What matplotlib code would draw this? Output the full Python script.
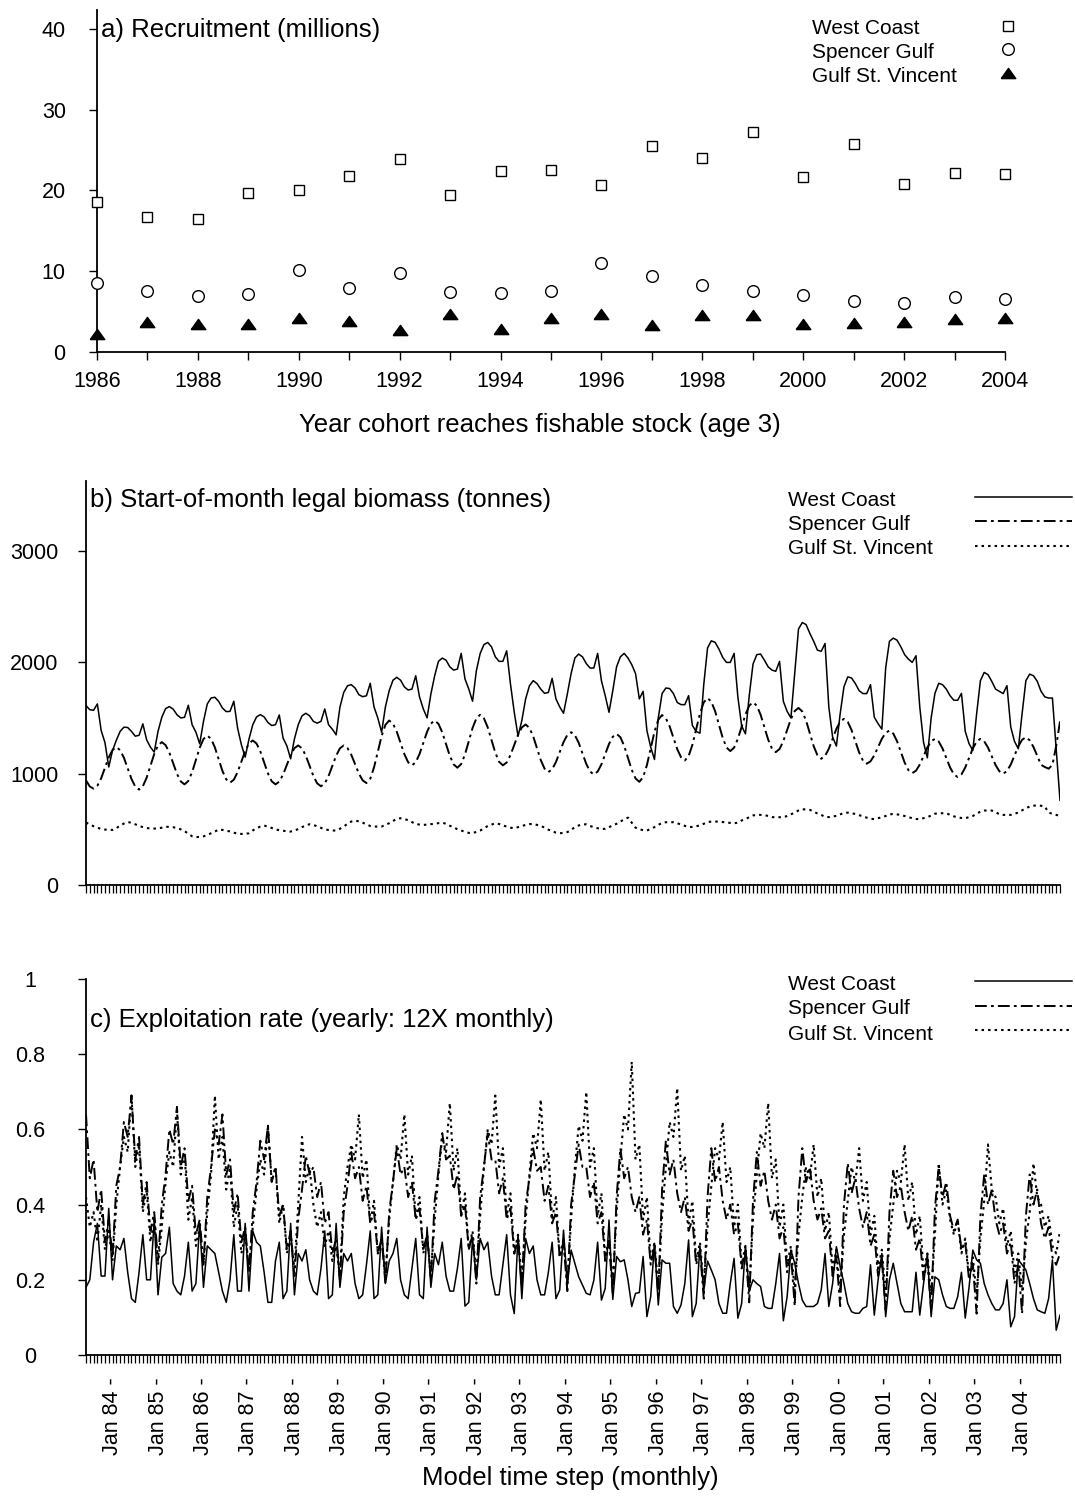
import numpy as np
import pandas as pd
import matplotlib
matplotlib.use('Agg')
import matplotlib.pyplot as plt
from matplotlib.lines import Line2D

plt.rcParams['font.family'] = ['Liberation Sans', 'DejaVu Sans']
plt.rcParams['lines.scale_dashes'] = False

# --- a) recruitment by cohort year (millions)
years = list(range(1986, 2005))
wc_rec = [18.6, 16.7, 16.5, 19.7, 20.0, 21.8, 23.9, 19.4, 22.4, 22.5,
          20.7, 25.5, 24.0, 27.2, 21.7, 25.7, 20.8, 22.2, 22.0]
sg_rec = [8.5, 7.5, 6.9, 7.2, 10.1, 7.9, 9.8, 7.4, 7.3, 7.5,
          11.0, 9.4, 8.3, 7.5, 7.1, 6.3, 6.1, 6.8, 6.6]
gsv_rec = [2.2, 3.7, 3.5, 3.5, 4.2, 3.8, 2.7, 4.7, 2.8, 4.2,
           4.7, 3.3, 4.6, 4.6, 3.5, 3.6, 3.7, 4.1, 4.2]

# --- b) start-of-month legal biomass (tonnes), Jun 1983 .. Nov 2004
wc_bio = [
    1612, 1575, 1570, 1627, 1388, 1280, 1060, 1209, 1300, 1380, 1418, 1415,
    1380, 1337, 1345, 1448, 1304, 1239, 1194, 1380, 1507, 1585, 1603, 1580,
    1530, 1501, 1507, 1615, 1440, 1373, 1269, 1470, 1627, 1680, 1687, 1650,
    1590, 1558, 1560, 1651, 1410, 1260, 1149, 1310, 1440, 1510, 1531, 1510,
    1460, 1433, 1440, 1528, 1320, 1250, 1134, 1313, 1440, 1520, 1543, 1520,
    1470, 1454, 1470, 1582, 1440, 1400, 1349, 1597, 1730, 1790, 1800, 1770,
    1710, 1692, 1700, 1812, 1600, 1500, 1373, 1600, 1746, 1840, 1866, 1840,
    1780, 1752, 1760, 1880, 1690, 1582, 1502, 1716, 1880, 2010, 2039, 2020,
    1960, 1931, 1940, 2081, 1851, 1761, 1651, 1925, 2080, 2160, 2179, 2140,
    2050, 2009, 2010, 2104, 1806, 1552, 1337, 1478, 1672, 1790, 1836, 1810,
    1760, 1722, 1730, 1857, 1672, 1600, 1543, 1716, 1900, 2040, 2075, 2050,
    1990, 1949, 1950, 2081, 1836, 1701, 1552, 1746, 1961, 2050, 2081, 2040,
    1980, 1900, 1672, 1740, 1388, 1239, 1128, 1500, 1720, 1770, 1765, 1720,
    1640, 1621, 1620, 1701, 1433, 1380, 1364, 1800, 2130, 2194, 2180, 2120,
    2045, 2000, 2000, 2081, 1690, 1430, 1358, 1700, 1985, 2070, 2075, 2020,
    1960, 1931, 1920, 2009, 1650, 1560, 1502, 1900, 2300, 2358, 2340, 2260,
    2190, 2110, 2100, 2170, 1600, 1330, 1248, 1540, 1782, 1870, 1860, 1810,
    1746, 1720, 1720, 1800, 1507, 1450, 1400, 1950, 2190, 2218, 2200, 2140,
    2070, 2030, 2000, 2060, 1600, 1280, 1143, 1500, 1722, 1812, 1800, 1760,
    1700, 1660, 1660, 1722, 1380, 1270, 1209, 1537, 1836, 1910, 1890, 1830,
    1760, 1740, 1720, 1791, 1420, 1290, 1224, 1540, 1836, 1895, 1880, 1830,
    1740, 1690, 1680, 1680, 1220, 761]
sg_bio = [
    940, 885, 866, 892, 959, 1052, 1146, 1213, 1239, 1212, 1144, 1048,
    953, 884, 857, 887, 964, 1071, 1177, 1254, 1284, 1257, 1189, 1094,
    999, 931, 904, 935, 1014, 1124, 1233, 1312, 1343, 1313, 1237, 1131,
    1025, 949, 919, 946, 1014, 1109, 1204, 1272, 1299, 1271, 1200, 1102,
    1003, 932, 904, 929, 992, 1079, 1167, 1230, 1254, 1228, 1162, 1071,
    979, 913, 887, 913, 979, 1071, 1162, 1228, 1254, 1230, 1170, 1085,
    1001, 940, 916, 955, 1057, 1197, 1338, 1439, 1478, 1450, 1377, 1277,
    1176, 1103, 1075, 1103, 1176, 1277, 1377, 1450, 1478, 1448, 1372, 1266,
    1160, 1084, 1054, 1087, 1173, 1292, 1411, 1497, 1530, 1498, 1416, 1303,
    1189, 1107, 1075, 1101, 1167, 1259, 1350, 1416, 1442, 1412, 1335, 1229,
    1122, 1045, 1015, 1040, 1105, 1194, 1284, 1348, 1373, 1346, 1278, 1183,
    1088, 1020, 993, 1019, 1084, 1176, 1267, 1332, 1358, 1328, 1250, 1143,
    1035, 957, 927, 969, 1077, 1227, 1377, 1485, 1527, 1498, 1425, 1323,
    1221, 1148, 1119, 1158, 1259, 1400, 1540, 1641, 1680, 1647, 1561, 1442,
    1322, 1236, 1203, 1234, 1313, 1423, 1532, 1611, 1642, 1611, 1530, 1418,
    1306, 1225, 1194, 1222, 1293, 1393, 1492, 1563, 1591, 1559, 1477, 1363,
    1248, 1166, 1134, 1159, 1224, 1314, 1403, 1468, 1493, 1465, 1392, 1292,
    1191, 1118, 1090, 1111, 1165, 1239, 1314, 1367, 1388, 1361, 1292, 1197,
    1101, 1032, 1005, 1027, 1082, 1159, 1236, 1291, 1313, 1289, 1227, 1142,
    1056, 994, 970, 994, 1056, 1142, 1227, 1289, 1313, 1291, 1235, 1157,
    1078, 1022, 1000, 1023, 1082, 1164, 1246, 1305, 1328, 1300, 1240, 1160,
    1080, 1060, 1045, 1080, 1250, 1470]
gsv_bio = [
    561, 545, 528, 515, 503, 498, 496, 495, 510, 535, 552, 565,
    560, 545, 531, 520, 512, 508, 507, 508, 515, 524, 522, 519,
    512, 500, 485, 460, 438, 430, 432, 437, 450, 465, 480, 498,
    495, 488, 481, 470, 462, 459, 459, 465, 490, 510, 525, 534,
    525, 512, 500, 492, 488, 482, 480, 490, 502, 520, 535, 546,
    540, 527, 515, 500, 494, 490, 489, 505, 525, 550, 570, 579,
    572, 560, 545, 530, 525, 525, 525, 540, 555, 575, 595, 600,
    592, 583, 565, 548, 543, 540, 542, 546, 551, 556, 560, 550,
    532, 520, 500, 489, 478, 468, 466, 478, 489, 510, 530, 543,
    555, 548, 535, 525, 515, 510, 520, 531, 540, 547, 549, 540,
    531, 515, 497, 485, 470, 465, 468, 475, 495, 520, 535, 545,
    545, 530, 520, 510, 503, 505, 520, 535, 550, 570, 590, 605,
    560, 515, 500, 493, 489, 505, 520, 540, 558, 564, 564, 564,
    555, 543, 530, 520, 522, 528, 535, 550, 565, 570, 570, 570,
    565, 561, 558, 555, 560, 580, 591, 610, 625, 630, 630, 628,
    620, 610, 609, 609, 609, 620, 635, 650, 670, 681, 678, 675,
    660, 642, 630, 612, 610, 615, 621, 635, 648, 650, 645, 638,
    628, 617, 605, 595, 592, 600, 609, 620, 635, 638, 634, 630,
    620, 610, 600, 593, 592, 600, 609, 625, 640, 645, 645, 645,
    630, 617, 608, 602, 600, 610, 620, 640, 660, 669, 669, 669,
    655, 635, 630, 630, 630, 640, 651, 670, 690, 705, 712, 717,
    712, 705, 650, 640, 630, 620]

# --- c) exploitation rate (yearly: 12 x monthly)
wc_expl = [
    0.18, 0.20, 0.30, 0.35, 0.21, 0.21, 0.39, 0.20, 0.29, 0.28, 0.31, 0.22,
    0.15, 0.14, 0.22, 0.32, 0.20, 0.20, 0.36, 0.16, 0.26, 0.27, 0.34, 0.19,
    0.17, 0.16, 0.21, 0.30, 0.17, 0.19, 0.35, 0.18, 0.29, 0.28, 0.27, 0.22,
    0.17, 0.14, 0.20, 0.32, 0.17, 0.17, 0.35, 0.17, 0.33, 0.30, 0.29, 0.22,
    0.14, 0.14, 0.25, 0.30, 0.15, 0.17, 0.35, 0.16, 0.27, 0.25, 0.28, 0.20,
    0.17, 0.16, 0.23, 0.33, 0.15, 0.16, 0.35, 0.18, 0.27, 0.25, 0.27, 0.19,
    0.15, 0.16, 0.24, 0.33, 0.15, 0.16, 0.34, 0.19, 0.25, 0.27, 0.31, 0.20,
    0.16, 0.15, 0.23, 0.31, 0.16, 0.15, 0.34, 0.18, 0.27, 0.24, 0.30, 0.21,
    0.17, 0.17, 0.23, 0.31, 0.13, 0.14, 0.31, 0.20, 0.31, 0.28, 0.30, 0.21,
    0.16, 0.16, 0.24, 0.32, 0.16, 0.11, 0.32, 0.15, 0.31, 0.27, 0.29, 0.20,
    0.16, 0.16, 0.22, 0.30, 0.15, 0.173, 0.332, 0.186, 0.279, 0.244, 0.208, 0.186,
    0.164, 0.160, 0.199, 0.30, 0.146, 0.177, 0.359, 0.148, 0.262, 0.248, 0.253, 0.20,
    0.129, 0.164, 0.166, 0.262, 0.102, 0.155, 0.297, 0.133, 0.253, 0.244, 0.244, 0.129,
    0.111, 0.133, 0.19, 0.306, 0.102, 0.137, 0.29, 0.17, 0.25, 0.226, 0.20, 0.137,
    0.111, 0.111, 0.19, 0.257, 0.098, 0.137, 0.29, 0.17, 0.20, 0.19, 0.182, 0.129,
    0.124, 0.124, 0.19, 0.27, 0.091, 0.155, 0.279, 0.244, 0.19, 0.146, 0.129, 0.129,
    0.129, 0.137, 0.173, 0.27, 0.129, 0.19, 0.288, 0.235, 0.19, 0.137, 0.115, 0.111,
    0.111, 0.124, 0.129, 0.24, 0.106, 0.20, 0.27, 0.102, 0.20, 0.244, 0.19, 0.137,
    0.115, 0.115, 0.115, 0.22, 0.106, 0.19, 0.27, 0.102, 0.208, 0.20, 0.16, 0.129,
    0.124, 0.124, 0.155, 0.22, 0.098, 0.18, 0.279, 0.253, 0.244, 0.19, 0.16, 0.137,
    0.12, 0.12, 0.137, 0.20, 0.075, 0.102, 0.253, 0.24, 0.226, 0.19, 0.15, 0.12,
    0.115, 0.111, 0.15, 0.253, 0.066, 0.106]
sg_expl = [
    0.64, 0.47, 0.52, 0.38, 0.44, 0.30, 0.36, 0.26, 0.45, 0.50, 0.62, 0.58,
    0.69, 0.52, 0.58, 0.40, 0.46, 0.33, 0.38, 0.25, 0.40, 0.48, 0.60, 0.56,
    0.66, 0.50, 0.55, 0.41, 0.45, 0.32, 0.36, 0.24, 0.42, 0.50, 0.60, 0.56,
    0.64, 0.48, 0.52, 0.38, 0.43, 0.30, 0.34, 0.22, 0.38, 0.46, 0.57, 0.52,
    0.61, 0.46, 0.50, 0.37, 0.40, 0.28, 0.33, 0.21, 0.36, 0.44, 0.53, 0.48,
    0.50, 0.42, 0.46, 0.35, 0.38, 0.27, 0.31, 0.20, 0.38, 0.45, 0.54, 0.47,
    0.50, 0.41, 0.45, 0.35, 0.38, 0.27, 0.31, 0.19, 0.38, 0.46, 0.55, 0.48,
    0.50, 0.42, 0.46, 0.36, 0.39, 0.28, 0.32, 0.20, 0.41, 0.49, 0.59, 0.52,
    0.53, 0.44, 0.48, 0.37, 0.40, 0.28, 0.32, 0.19, 0.42, 0.50, 0.59, 0.52,
    0.52, 0.43, 0.47, 0.36, 0.39, 0.27, 0.31, 0.18, 0.40, 0.47, 0.55, 0.49,
    0.50, 0.41, 0.45, 0.35, 0.38, 0.26, 0.30, 0.17, 0.40, 0.48, 0.56, 0.50,
    0.50, 0.42, 0.46, 0.35, 0.38, 0.25, 0.30, 0.16, 0.42, 0.55, 0.47, 0.50,
    0.42, 0.38, 0.42, 0.32, 0.36, 0.24, 0.29, 0.16, 0.44, 0.57, 0.48, 0.52,
    0.43, 0.38, 0.42, 0.33, 0.36, 0.24, 0.28, 0.15, 0.42, 0.55, 0.46, 0.50,
    0.41, 0.36, 0.40, 0.32, 0.35, 0.23, 0.28, 0.14, 0.41, 0.54, 0.45, 0.49,
    0.41, 0.36, 0.40, 0.31, 0.34, 0.22, 0.27, 0.13, 0.42, 0.55, 0.46, 0.50,
    0.41, 0.36, 0.39, 0.31, 0.33, 0.21, 0.26, 0.13, 0.40, 0.51, 0.43, 0.47,
    0.39, 0.34, 0.38, 0.29, 0.32, 0.21, 0.25, 0.12, 0.38, 0.49, 0.42, 0.45,
    0.38, 0.33, 0.37, 0.28, 0.31, 0.20, 0.25, 0.12, 0.39, 0.50, 0.42, 0.46,
    0.37, 0.33, 0.36, 0.28, 0.30, 0.20, 0.24, 0.11, 0.37, 0.48, 0.40, 0.44,
    0.36, 0.32, 0.35, 0.27, 0.30, 0.19, 0.24, 0.11, 0.37, 0.48, 0.40, 0.44,
    0.35, 0.31, 0.34, 0.26, 0.24, 0.27]
gsv_expl = [
    0.42, 0.34, 0.38, 0.30, 0.40, 0.28, 0.33, 0.25, 0.40, 0.50, 0.58, 0.54,
    0.69, 0.50, 0.56, 0.38, 0.44, 0.30, 0.36, 0.24, 0.34, 0.46, 0.54, 0.50,
    0.65, 0.48, 0.54, 0.36, 0.42, 0.29, 0.34, 0.24, 0.38, 0.48, 0.69, 0.52,
    0.58, 0.44, 0.50, 0.34, 0.40, 0.27, 0.32, 0.23, 0.34, 0.44, 0.52, 0.48,
    0.61, 0.46, 0.50, 0.35, 0.40, 0.27, 0.31, 0.23, 0.40, 0.58, 0.46, 0.50,
    0.40, 0.34, 0.38, 0.29, 0.33, 0.25, 0.29, 0.21, 0.42, 0.50, 0.56, 0.52,
    0.64, 0.47, 0.52, 0.35, 0.41, 0.27, 0.31, 0.21, 0.36, 0.46, 0.56, 0.52,
    0.64, 0.48, 0.53, 0.36, 0.42, 0.27, 0.32, 0.21, 0.36, 0.48, 0.58, 0.54,
    0.67, 0.49, 0.55, 0.37, 0.43, 0.28, 0.33, 0.21, 0.37, 0.50, 0.60, 0.56,
    0.69, 0.50, 0.55, 0.37, 0.43, 0.27, 0.32, 0.20, 0.36, 0.48, 0.59, 0.55,
    0.68, 0.49, 0.54, 0.36, 0.42, 0.26, 0.31, 0.19, 0.36, 0.50, 0.61, 0.57,
    0.70, 0.50, 0.55, 0.37, 0.43, 0.26, 0.31, 0.19, 0.38, 0.52, 0.64, 0.60,
    0.78, 0.52, 0.56, 0.36, 0.42, 0.25, 0.30, 0.18, 0.37, 0.50, 0.62, 0.58,
    0.71, 0.49, 0.53, 0.35, 0.41, 0.25, 0.30, 0.18, 0.34, 0.45, 0.55, 0.52,
    0.62, 0.46, 0.50, 0.34, 0.40, 0.24, 0.29, 0.17, 0.36, 0.48, 0.59, 0.55,
    0.67, 0.47, 0.52, 0.34, 0.40, 0.24, 0.29, 0.17, 0.32, 0.42, 0.50, 0.47,
    0.56, 0.42, 0.47, 0.33, 0.38, 0.23, 0.28, 0.17, 0.32, 0.41, 0.50, 0.46,
    0.55, 0.41, 0.46, 0.32, 0.37, 0.23, 0.28, 0.16, 0.31, 0.40, 0.49, 0.46,
    0.56, 0.41, 0.46, 0.32, 0.37, 0.22, 0.27, 0.16, 0.32, 0.51, 0.40, 0.44,
    0.36, 0.32, 0.36, 0.27, 0.31, 0.21, 0.26, 0.16, 0.31, 0.41, 0.56, 0.44,
    0.42, 0.35, 0.39, 0.29, 0.33, 0.22, 0.27, 0.17, 0.30, 0.38, 0.51, 0.42,
    0.40, 0.34, 0.37, 0.29, 0.27, 0.33]

stocks = ['West Coast', 'Spencer Gulf', 'Gulf St. Vincent']

W, H = 1075, 1497
def fx(px):
    return px / W
def fy(py):
    return 1 - py / H

TICK_FS = 15.5
TITLE_FS = 18.5
LEG_FS = 15
DASHDOT = (0, (8.5, 3, 2, 3))
DOTTED = (0, (1.8, 2.9))

def style_axes(ax):
    for side in ('top', 'right'):
        ax.spines[side].set_visible(False)
    for side in ('left', 'bottom'):
        ax.spines[side].set_linewidth(1.3)
    ax.tick_params(direction='out', length=6, width=1.0, labelsize=TICK_FS)

fig = plt.figure(figsize=(W / 100, H / 100), dpi=100)

# ---------------- panel a
ax1 = fig.add_axes([fx(97), fy(352), fx(1005) - fx(97), fy(10) - fy(352)])
style_axes(ax1)
tri = [(-1, -0.7), (1, -0.7), (0, 0.7), (-1, -0.7)]
ax1.plot(years, wc_rec, 's', ms=7.2, mfc='white', mec='black', mew=1.0, clip_on=False, zorder=3)
ax1.plot(years, sg_rec, 'o', ms=8.4, mfc='white', mec='black', mew=1.0, clip_on=False, zorder=3)
ax1.plot(years, gsv_rec, marker=tri, ls='none', ms=10.5, color='black', clip_on=False, zorder=3)
ax1.set_xlim(1986, 2004)
ax1.set_ylim(0, 42.35)
ax1.set_xticks(years, [str(y) if y % 2 == 0 else '' for y in years])
ax1.set_yticks([0, 10, 20, 30, 40])
ax1.tick_params(axis='y', pad=16.5)
ax1.tick_params(axis='x', pad=8)
fig.text(fx(101), fy(30), 'a) Recruitment (millions)', fontsize=TITLE_FS, va='center', ha='left')
fig.text(fx(540), fy(425), 'Year cohort reaches fishable stock (age 3)', fontsize=TITLE_FS,
         va='center', ha='center')
markers_a = [dict(marker='s', ms=7.2, mfc='white', mec='black', mew=1.0),
             dict(marker='o', ms=8.4, mfc='white', mec='black', mew=1.0),
             dict(marker=tri, ms=10.5, color='black')]
for name, yy, my, mk in zip(stocks, [28, 52, 76], [26, 49, 73], markers_a):
    fig.text(fx(812), fy(yy), name, fontsize=LEG_FS, va='center', ha='left')
    fig.add_artist(Line2D([fx(1008)], [fy(my)], ls='none', **mk))

# monthly time axis
months = pd.date_range('1983-06-01', periods=len(wc_bio), freq='MS')
steps = np.arange(len(months))
jan = steps[months.month == 1]
jan_labels = [f'Jan {d:%y} -' for d in months[jan]]

line_styles = [dict(ls='-', lw=1.1), dict(ls=DASHDOT, lw=1.4), dict(ls=DOTTED, lw=1.5)]

def legend_lines(y_text, y_line):
    for name, yt, yl, st in zip(stocks, y_text, y_line, line_styles):
        fig.text(fx(788), fy(yt), name, fontsize=LEG_FS, va='center', ha='left')
        fig.add_artist(Line2D([fx(975), fx(1072)], [fy(yl), fy(yl)], color='black', **st))

# ---------------- panel b
ax2 = fig.add_axes([fx(86), fy(885), fx(1060) - fx(86), fy(481) - fy(885)])
style_axes(ax2)
for series, st in zip([wc_bio, sg_bio, gsv_bio], line_styles):
    ax2.plot(steps, series, color='black', **st)
ax2.set_xlim(0, len(steps) - 1)
ax2.set_ylim(0, 3630)
ax2.set_yticks([0, 1000, 2000, 3000])
ax2.set_xticks(steps)
ax2.tick_params(axis='x', labelbottom=False, width=0.9)
ax2.tick_params(axis='y', pad=14)
fig.text(fx(90), fy(500), 'b) Start-of-month legal biomass (tonnes)', fontsize=TITLE_FS,
         va='center', ha='left')
legend_lines([500, 525, 549], [497, 521, 546])

# ---------------- panel c
ax3 = fig.add_axes([fx(86), fy(1355), fx(1060) - fx(86), fy(979) - fy(1355)])
style_axes(ax3)
for series, st in zip([wc_expl, sg_expl, gsv_expl], line_styles):
    ax3.plot(steps, series, color='black', **st)
ax3.set_xlim(0, len(steps) - 1)
ax3.set_ylim(0, 1)
ax3.set_yticks([0, 0.2, 0.4, 0.6, 0.8, 1], ['0', '0.2', '0.4', '0.6', '0.8', '1'])
for lab in ax3.get_yticklabels():
    lab.set_ha('center')
ax3.tick_params(axis='y', pad=34)
ax3.set_xticks(steps, minor=True)
ax3.set_xticks(jan, jan_labels, rotation=90, fontsize=TICK_FS)
ax3.tick_params(axis='x', which='both', direction='out', length=6, width=0.9)
ax3.tick_params(axis='x', which='major', pad=10)
fig.text(fx(90), fy(1020), 'c) Exploitation rate (yearly: 12X monthly)', fontsize=TITLE_FS,
         va='center', ha='left')
legend_lines([984, 1009, 1034], [981, 1006, 1030])
fig.text(fx(570), fy(1478), 'Model time step (monthly)', fontsize=TITLE_FS, va='center', ha='center')

fig.savefig('out.png', dpi=100)
